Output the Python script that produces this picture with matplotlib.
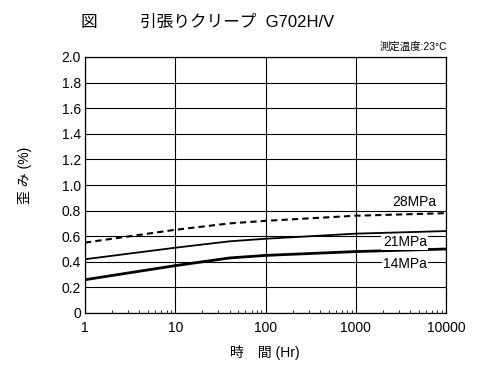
import matplotlib
matplotlib.use("Agg")
import matplotlib.pyplot as plt

plt.rcParams['font.family'] = ['Liberation Sans', 'Noto Sans CJK JP', 'DejaVu Sans']

hours = [1, 10, 40, 100, 1000, 10000]
s28 = [0.55, 0.65, 0.70, 0.72, 0.76, 0.78]
s21 = [0.42, 0.51, 0.56, 0.58, 0.62, 0.64]
s14 = [0.26, 0.37, 0.43, 0.45, 0.48, 0.50]
yticks = [0, 0.2, 0.4, 0.6, 0.8, 1.0, 1.2, 1.4, 1.6, 1.8, 2.0]
ytick_labels = ['0', '0.2', '0.4', '0.6', '0.8', '1.0', '1.2', '1.4', '1.6', '1.8', '2.0']
xticks = [1, 10, 100, 1000, 10000]
xtick_labels = ['1', '10', '100', '1000', '10000']

fig = plt.figure(figsize=(5, 3.76), dpi=100)
ax = fig.add_axes([85/500, 1-313/376, (446-85)/500, (313-57)/376])

ax.plot(hours, s28, color='black', lw=1.5, ls=(0, (3, 2)))
ax.plot(hours, s21, color='black', lw=1.3)
ax.plot(hours, s14, color='black', lw=2.0)

ax.set_xscale('log')
ax.set_xlim(1, 10000)
ax.set_ylim(0, 2.0)
ax.set_yticks(yticks)
ax.set_yticklabels(ytick_labels)
ax.set_xticks(xticks)
ax.set_xticklabels(xtick_labels)
ax.grid(True, which='major', color='black', lw=0.8)
ax.tick_params(axis='y', which='both', length=0, labelsize=10, pad=3)
ax.tick_params(axis='x', which='major', length=0, labelsize=10, pad=6)
ax.tick_params(axis='x', which='minor', direction='in', length=2, width=0.6)
for sp in ax.spines.values():
    sp.set_linewidth(0.9)

ax.text(4500, 0.87, '28MPa', fontsize=10, ha='center', va='center')
ax.text(3500, 0.555, '21MPa', fontsize=10, ha='center', va='center',
        bbox=dict(facecolor='white', edgecolor='none', pad=1))
ax.text(3500, 0.385, '14MPa', fontsize=10, ha='center', va='center',
        bbox=dict(facecolor='white', edgecolor='none', pad=1))

fig.text(80/500, 1-22/376, '図', fontsize=12, ha='left', va='center')
fig.text(140/500, 1-22/376, '引張りクリープ  G702H/V', fontsize=12, ha='left', va='center')
fig.text(447/500, 1-47/376, '測定温度:23°C', fontsize=7.5, ha='right', va='center')
fig.text(265/500, 1-352/376, '時　間 (Hr)', fontsize=10, ha='center', va='center')
fig.text(25/500, 1-175/376, '歪 み (%)', fontsize=10, ha='center', va='center', rotation=90)

fig.savefig('out.png', dpi=100)
